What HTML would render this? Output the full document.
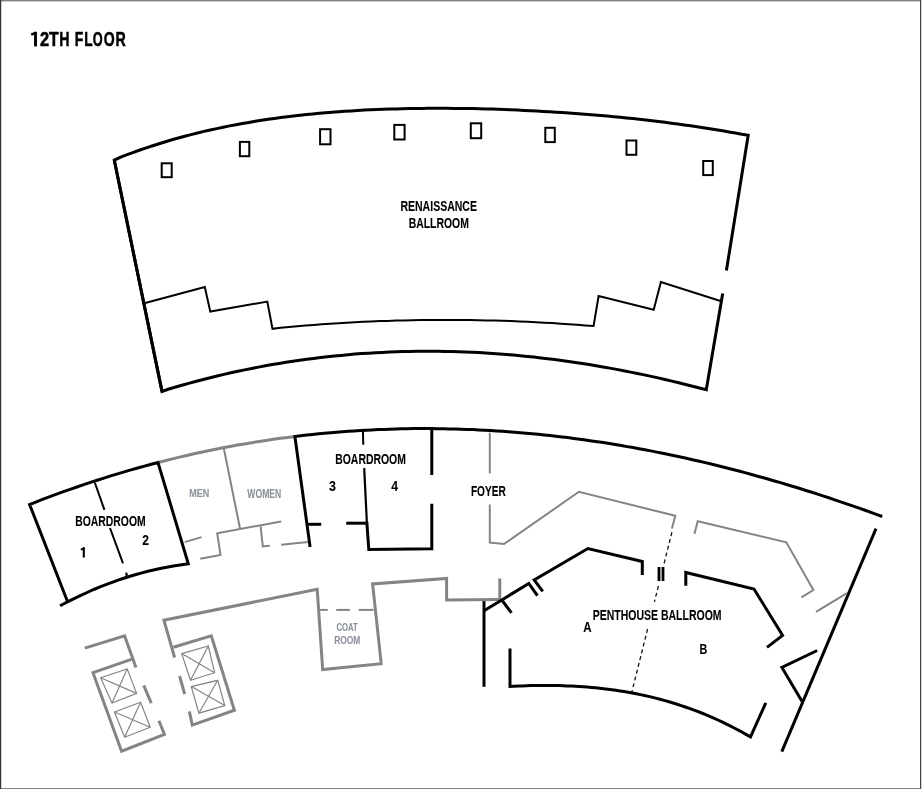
<!DOCTYPE html>
<html><head><meta charset="utf-8"><style>
html,body{margin:0;padding:0;background:#fff;}
body{width:922px;height:789px;overflow:hidden;position:relative;}
svg{position:absolute;left:0;top:0;}
text{font-family:"Liberation Sans",sans-serif;font-weight:bold;} svg{will-change:transform;}
</style></head><body>
<svg width="922" height="789" viewBox="0 0 922 789">
<rect x="0" y="0" width="922" height="789" fill="#fff"/>
<rect x="0" y="0" width="921" height="1.4" fill="#808080"/>
<rect x="0" y="788" width="922" height="1" fill="#808080"/>
<rect x="0" y="0" width="1.2" height="789" fill="#333"/>
<rect x="920" y="0" width="1.1" height="789" fill="#444"/>
<rect x="921" y="0" width="1" height="789" fill="#d0d0d0"/>
<polyline points="162.0,391.4 114.3,160.2 120.7,157.1 127.1,154.7 133.5,152.3 139.9,150.0 146.3,147.8 152.7,145.7 159.1,143.7 165.5,141.7 171.9,139.8 178.3,138.0 184.7,136.3 191.1,134.6 197.5,133.0 203.9,131.4 210.3,130.0 216.7,128.6 223.2,127.2 229.6,125.9 236.0,124.7 242.4,123.5 248.8,122.4 255.2,121.3 261.6,120.3 268.0,119.3 274.4,118.4 280.8,117.6 287.2,116.7 293.6,116.0 300.0,115.2 306.4,114.5 312.8,113.9 319.2,113.3 325.6,112.7 332.0,112.2 338.4,111.7 344.8,111.3 351.2,110.9 357.6,110.5 364.0,110.1 370.4,109.8 376.8,109.5 383.2,109.3 389.6,109.1 396.0,108.9 402.4,108.7 408.8,108.6 415.2,108.5 421.6,108.4 428.0,108.3 434.5,108.3 440.9,108.3 447.3,108.3 453.7,108.4 460.1,108.4 466.5,108.5 472.9,108.6 479.3,108.8 485.7,108.9 492.1,109.1 498.5,109.3 504.9,109.6 511.3,109.8 517.7,110.1 524.1,110.4 530.5,110.7 536.9,111.0 543.3,111.4 549.7,111.8 556.1,112.2 562.5,112.6 568.9,113.0 575.3,113.5 581.7,114.0 588.1,114.5 594.5,115.0 600.9,115.5 607.3,116.1 613.7,116.7 620.1,117.3 626.5,118.0 632.9,118.6 639.3,119.3 645.8,120.0 652.2,120.8 658.6,121.5 665.0,122.3 671.4,123.2 677.8,124.0 684.2,124.9 690.6,125.8 697.0,126.7 703.4,127.7 709.8,128.7 716.2,129.7 722.6,130.8 729.0,131.9 735.4,133.0 741.8,134.2 748.2,135.2 726.4,270.6" fill="none" stroke="#000" stroke-width="3" stroke-linejoin="miter" stroke-linecap="butt" />
<polyline points="722.7,293.4 706.3,389.6 699.4,388.0 692.5,386.2 685.6,384.5 678.7,382.8 671.9,381.1 665.0,379.5 658.1,377.9 651.2,376.4 644.3,374.9 637.4,373.5 630.5,372.1 623.6,370.7 616.7,369.4 609.8,368.1 603.0,366.9 596.1,365.7 589.2,364.6 582.3,363.5 575.4,362.4 568.5,361.4 561.6,360.5 554.7,359.6 547.8,358.7 540.9,357.9 534.1,357.1 527.2,356.4 520.3,355.7 513.4,355.1 506.5,354.5 499.6,353.9 492.7,353.5 485.8,353.0 478.9,352.6 472.0,352.3 465.2,352.0 458.3,351.8 451.4,351.6 444.5,351.4 437.6,351.3 430.7,351.3 423.8,351.3 416.9,351.3 410.0,351.4 403.1,351.6 396.3,351.8 389.4,352.1 382.5,352.4 375.6,352.7 368.7,353.2 361.8,353.6 354.9,354.1 348.0,354.7 341.1,355.4 334.2,356.0 327.4,356.8 320.5,357.6 313.6,358.4 306.7,359.3 299.8,360.3 292.9,361.3 286.0,362.3 279.1,363.4 272.2,364.6 265.3,365.8 258.5,367.1 251.6,368.5 244.7,369.9 237.8,371.3 230.9,372.8 224.0,374.4 217.1,376.0 210.2,377.7 203.3,379.5 196.4,381.3 189.6,383.1 182.7,385.0 175.8,387.0 168.9,389.0 162.0,391.4 114.3,160.2" fill="none" stroke="#000" stroke-width="3" stroke-linejoin="miter" stroke-linecap="butt" />
<polyline points="145.2,303.0 204.8,287.1 210.3,311.6 267.3,301.6 272.5,328.8 280.7,327.7 289.0,326.9 297.2,326.2 305.4,325.5 313.7,324.9 321.9,324.3 330.1,323.7 338.4,323.2 346.6,322.7 354.8,322.3 363.1,321.8 371.3,321.5 379.5,321.1 387.8,320.9 396.0,320.6 404.2,320.4 412.5,320.2 420.7,320.1 428.9,320.0 437.2,319.9 445.4,319.9 453.6,319.9 461.9,320.0 470.1,320.1 478.3,320.2 486.6,320.4 494.8,320.6 503.0,320.8 511.3,321.1 519.5,321.4 527.7,321.8 536.0,322.2 544.2,322.7 552.4,323.1 560.7,323.7 568.9,324.2 577.1,324.8 585.4,325.4 593.6,325.9 598.6,296.0 653.7,309.7 660.9,282.1 720.5,301.0" fill="none" stroke="#000" stroke-width="2" stroke-linejoin="miter" stroke-linecap="butt" />
<rect x="161.7" y="163.3" width="10.0" height="13.9" fill="none" stroke="#000" stroke-width="2"/>
<rect x="239.9" y="141.9" width="9.4" height="14.3" fill="none" stroke="#000" stroke-width="2"/>
<rect x="320.1" y="129.2" width="10.4" height="15.1" fill="none" stroke="#000" stroke-width="2"/>
<rect x="394.3" y="124.9" width="10.3" height="14.6" fill="none" stroke="#000" stroke-width="2"/>
<rect x="470.8" y="123.3" width="10.4" height="14.9" fill="none" stroke="#000" stroke-width="2"/>
<rect x="545.3" y="127.8" width="9.5" height="14.3" fill="none" stroke="#000" stroke-width="2"/>
<rect x="626.5" y="140.5" width="9.8" height="14.3" fill="none" stroke="#000" stroke-width="2"/>
<rect x="703.2" y="161.0" width="9.6" height="14.1" fill="none" stroke="#000" stroke-width="2"/>
<text x="400.40" y="211.30" font-size="15.42" textLength="76.58" lengthAdjust="spacingAndGlyphs" fill="#000" stroke="#000" stroke-width="0.1">RENAISSANCE</text>
<text x="408.67" y="228.10" font-size="15.42" textLength="60.24" lengthAdjust="spacingAndGlyphs" fill="#000" stroke="#000" stroke-width="0.1">BALLROOM</text>
<polyline points="35.5,31.9 35.5,46.4" fill="none" stroke="#000" stroke-width="2.9" stroke-linejoin="miter" stroke-linecap="butt" />
<polyline points="31.2,34.6 36.3,32.6" fill="none" stroke="#000" stroke-width="2.4" stroke-linejoin="miter" stroke-linecap="butt" />
<text x="39.95" y="46.13" font-size="20.97" textLength="9.13" lengthAdjust="spacingAndGlyphs" fill="#000" stroke="#000" stroke-width="0.55">2</text>
<text x="49.12" y="46.13" font-size="20.90" textLength="9.74" lengthAdjust="spacingAndGlyphs" fill="#000" stroke="#000" stroke-width="0.55">T</text>
<text x="59.22" y="46.13" font-size="20.90" textLength="10.25" lengthAdjust="spacingAndGlyphs" fill="#000" stroke="#000" stroke-width="0.55">H</text>
<text x="74.78" y="46.15" font-size="20.92" textLength="8.54" lengthAdjust="spacingAndGlyphs" fill="#000" stroke="#000" stroke-width="0.55">F</text>
<text x="84.23" y="46.13" font-size="20.90" textLength="8.31" lengthAdjust="spacingAndGlyphs" fill="#000" stroke="#000" stroke-width="0.55">L</text>
<text x="92.82" y="46.17" font-size="21.08" textLength="9.90" lengthAdjust="spacingAndGlyphs" fill="#000" stroke="#000" stroke-width="0.55">O</text>
<text x="103.85" y="46.19" font-size="20.73" textLength="10.95" lengthAdjust="spacingAndGlyphs" fill="#000" stroke="#000" stroke-width="0.55">O</text>
<text x="115.41" y="46.13" font-size="20.90" textLength="10.26" lengthAdjust="spacingAndGlyphs" fill="#000" stroke="#000" stroke-width="0.55">R</text>
<polyline points="158.0,462.5 165.2,460.7 172.4,458.9 179.6,457.1 186.8,455.5 194.0,453.8 201.2,452.2 208.4,450.7 215.6,449.3 222.8,447.8 230.1,446.5 237.3,445.1 244.5,443.9 251.7,442.7 258.9,441.5 266.1,440.4 273.3,439.3 280.5,438.3 287.7,437.4 294.9,436.5" fill="none" stroke="#838585" stroke-width="3" stroke-linejoin="miter" stroke-linecap="butt" />
<polyline points="310.1,547.0 294.9,436.5 300.8,435.8 306.8,435.1 312.7,434.4 318.6,433.8 324.6,433.3 330.5,432.7 336.4,432.2 342.4,431.7 348.3,431.3 354.2,430.9 360.2,430.5 366.1,430.2 372.0,429.9 378.0,429.6 383.9,429.4 389.8,429.2 395.7,429.0 401.7,428.8 407.6,428.7 413.5,428.6 419.5,428.6 425.4,428.6 431.3,428.6 437.3,428.7 443.2,428.7 449.1,428.9 455.1,429.0 461.0,429.2 466.9,429.4 472.9,429.6 478.8,429.9 484.7,430.2 490.7,430.5 496.6,430.9 502.5,431.3 508.5,431.7 514.4,432.2 520.3,432.7 526.3,433.2 532.2,433.7 538.1,434.3 544.1,434.9 550.0,435.5 555.9,436.2 561.9,436.9 567.8,437.6 573.7,438.4 579.7,439.2 585.6,440.0 591.5,440.9 597.4,441.7 603.4,442.6 609.3,443.6 615.2,444.5 621.2,445.5 627.1,446.6 633.0,447.6 639.0,448.7 644.9,449.8 650.8,450.9 656.8,452.1 662.7,453.3 668.6,454.5 674.6,455.8 680.5,457.0 686.4,458.3 692.4,459.7 698.3,461.0 704.2,462.4 710.2,463.8 716.1,465.3 722.0,466.8 728.0,468.3 733.9,469.8 739.8,471.3 745.8,472.9 751.7,474.5 757.6,476.2 763.6,477.8 769.5,479.5 775.4,481.2 781.4,482.9 787.3,484.7 793.2,486.5 799.1,488.3 805.1,490.2 811.0,492.0 816.9,493.9 822.9,495.9 828.8,497.8 834.7,499.8 840.7,501.8 846.6,503.8 852.5,505.9 858.5,507.9 864.4,510.0 870.3,512.1 876.3,514.3 882.2,516.5" fill="none" stroke="#000" stroke-width="3" stroke-linejoin="miter" stroke-linecap="butt" />
<polyline points="60.1,605.7 67.6,601.7 29.6,504.5 29.6,504.5 36.4,501.8 43.1,499.2 49.9,496.7 56.6,494.2 63.4,491.7 70.1,489.3 76.9,487.0 83.7,484.7 90.4,482.4 97.2,480.2 103.9,478.1 110.7,475.9 117.5,473.9 124.2,471.9 131.0,469.9 137.7,468.0 144.5,466.1 151.2,464.3 158.0,462.5 188.3,563.8 181.6,564.8 174.8,565.8 168.1,567.0 161.3,568.3 154.6,569.7 147.8,571.3 141.1,573.1 134.3,575.0 127.6,577.0 120.8,579.2 114.1,581.6 107.3,584.1 100.6,586.7 93.8,589.5 87.1,592.5 80.3,595.6 73.6,598.8 66.8,602.2 67.6,601.7" fill="none" stroke="#000" stroke-width="3" stroke-linejoin="miter" stroke-linecap="butt" />
<polyline points="94.8,482.5 104.4,509.8" fill="none" stroke="#000" stroke-width="2" stroke-linejoin="miter" stroke-linecap="butt" />
<polyline points="110.0,528.0 123.0,563.4" fill="none" stroke="#000" stroke-width="2" stroke-linejoin="miter" stroke-linecap="butt" />
<polyline points="126.3,572.6 127.0,578.0" fill="none" stroke="#000" stroke-width="2.2" stroke-linejoin="miter" stroke-linecap="butt" />
<text x="75.24" y="526.25" font-size="15.42" textLength="70.42" lengthAdjust="spacingAndGlyphs" fill="#000" stroke="#000" stroke-width="0.1">BOARDROOM</text>
<polyline points="83.8,547.2 83.8,557.5" fill="none" stroke="#000" stroke-width="2.1" stroke-linejoin="miter" stroke-linecap="butt" />
<polyline points="80.8,549.7 84.4,548.2" fill="none" stroke="#000" stroke-width="1.9" stroke-linejoin="miter" stroke-linecap="butt" />
<text x="142.20" y="544.50" font-size="14.39" textLength="6.70" lengthAdjust="spacingAndGlyphs" fill="#000" stroke="#000" stroke-width="0.1">2</text>
<polyline points="223.8,448.2 240.0,528.5" fill="none" stroke="#838585" stroke-width="2" stroke-linejoin="miter" stroke-linecap="butt" />
<polyline points="184.7,542.1 201.6,537.1" fill="none" stroke="#838585" stroke-width="2" stroke-linejoin="miter" stroke-linecap="butt" />
<polyline points="281.2,521.5 217.2,533.2 220.5,554.9 200.3,558.8" fill="none" stroke="#838585" stroke-width="2" stroke-linejoin="miter" stroke-linecap="butt" />
<polyline points="260.6,526.3 262.8,546.5 269.7,545.8" fill="none" stroke="#838585" stroke-width="2" stroke-linejoin="miter" stroke-linecap="butt" />
<polyline points="281.2,544.7 307.9,541.9" fill="none" stroke="#838585" stroke-width="2" stroke-linejoin="miter" stroke-linecap="butt" />
<text x="189.21" y="497.25" font-size="11.31" textLength="20.04" lengthAdjust="spacingAndGlyphs" fill="#8c919b" stroke="#8c919b" stroke-width="0.1">MEN</text>
<text x="247.35" y="497.50" font-size="12.02" textLength="33.88" lengthAdjust="spacingAndGlyphs" fill="#8c919b" stroke="#8c919b" stroke-width="0.1">WOMEN</text>
<polyline points="308.2,524.3 321.2,524.3" fill="none" stroke="#000" stroke-width="3" stroke-linejoin="miter" stroke-linecap="butt" />
<polyline points="346.2,523.2 366.8,523.2" fill="none" stroke="#000" stroke-width="3" stroke-linejoin="miter" stroke-linecap="butt" />
<polyline points="362.9,430.4 363.3,444.7" fill="none" stroke="#000" stroke-width="2" stroke-linejoin="miter" stroke-linecap="butt" />
<polyline points="364.2,468.1 366.9,523.2" fill="none" stroke="#000" stroke-width="2.2" stroke-linejoin="miter" stroke-linecap="butt" />
<polyline points="366.8,521.7 368.8,549.5 431.8,548.8 431.8,503.7" fill="none" stroke="#000" stroke-width="3" stroke-linejoin="miter" stroke-linecap="butt" />
<polyline points="431.8,428.6 431.8,475.0" fill="none" stroke="#000" stroke-width="3" stroke-linejoin="miter" stroke-linecap="butt" />
<text x="335.24" y="464.25" font-size="14.97" textLength="70.64" lengthAdjust="spacingAndGlyphs" fill="#000" stroke="#000" stroke-width="0.1">BOARDROOM</text>
<text x="329.09" y="490.87" font-size="15.02" textLength="6.97" lengthAdjust="spacingAndGlyphs" fill="#000" stroke="#000" stroke-width="0.1">3</text>
<text x="391.30" y="490.80" font-size="14.53" textLength="6.80" lengthAdjust="spacingAndGlyphs" fill="#000" stroke="#000" stroke-width="0.1">4</text>
<polyline points="489.8,432.6 489.8,473.5" fill="none" stroke="#838585" stroke-width="2" stroke-linejoin="miter" stroke-linecap="butt" />
<polyline points="489.8,504.5 489.8,542.5 504.0,544.0 578.9,491.8 675.3,515.8 671.9,528.4" fill="none" stroke="#838585" stroke-width="2" stroke-linejoin="miter" stroke-linecap="butt" />
<text x="470.90" y="496.20" font-size="14.93" textLength="34.88" lengthAdjust="spacingAndGlyphs" fill="#000" stroke="#000" stroke-width="0.1">FOYER</text>
<polyline points="174.6,657.5 163.9,620.2 317.2,589.3 322.7,669.5 381.2,663.7 372.6,583.9 446.6,578.4 446.6,600.0 499.8,599.5" fill="none" stroke="#838585" stroke-width="3" stroke-linejoin="miter" stroke-linecap="butt" />
<polyline points="499.8,578.5 499.8,599.5" fill="none" stroke="#838585" stroke-width="3" stroke-linejoin="miter" stroke-linecap="butt" />
<polyline points="319.8,609.9 327.7,609.9" fill="none" stroke="#838585" stroke-width="2" stroke-linejoin="miter" stroke-linecap="butt" />
<polyline points="336.2,609.9 349.9,609.9" fill="none" stroke="#838585" stroke-width="2" stroke-linejoin="miter" stroke-linecap="butt" />
<polyline points="358.8,609.9 373.5,609.9" fill="none" stroke="#838585" stroke-width="2" stroke-linejoin="miter" stroke-linecap="butt" />
<text x="336.47" y="631.00" font-size="11.38" textLength="21.38" lengthAdjust="spacingAndGlyphs" fill="#8c919b" stroke="#8c919b" stroke-width="0.1">COAT</text>
<text x="334.24" y="644.01" font-size="11.63" textLength="26.13" lengthAdjust="spacingAndGlyphs" fill="#8c919b" stroke="#8c919b" stroke-width="0.1">ROOM</text>
<polyline points="84.8,648.1 124.6,635.9 136.0,667.6" fill="none" stroke="#838585" stroke-width="3" stroke-linejoin="miter" stroke-linecap="butt" />
<polyline points="133.5,658.7 93.0,672.7 121.6,751.2 164.4,734.3 158.9,720.8" fill="none" stroke="#838585" stroke-width="3" stroke-linejoin="miter" stroke-linecap="butt" />
<polyline points="143.7,685.3 151.3,703.1" fill="none" stroke="#838585" stroke-width="3" stroke-linejoin="miter" stroke-linecap="butt" />
<polyline points="173.3,647.3 211.3,635.9 234.4,710.2 192.3,725.1 189.3,711.4" fill="none" stroke="#838585" stroke-width="3" stroke-linejoin="miter" stroke-linecap="butt" />
<polyline points="179.6,676.0 184.7,694.2" fill="none" stroke="#838585" stroke-width="3" stroke-linejoin="miter" stroke-linecap="butt" />
<polygon points="100.6,677.7 127.2,668.9 136.6,693.4 112.0,703.1" fill="none" stroke="#838585" stroke-width="1.2" stroke-linejoin="miter" />
<polyline points="100.6,677.7 136.6,693.4" fill="none" stroke="#838585" stroke-width="1.2" stroke-linejoin="miter" stroke-linecap="butt" />
<polyline points="127.2,668.9 112.0,703.1" fill="none" stroke="#838585" stroke-width="1.2" stroke-linejoin="miter" stroke-linecap="butt" />
<polygon points="114.5,712.0 140.6,702.3 150.2,727.2 124.6,737.3" fill="none" stroke="#838585" stroke-width="1.2" stroke-linejoin="miter" />
<polyline points="114.5,712.0 150.2,727.2" fill="none" stroke="#838585" stroke-width="1.2" stroke-linejoin="miter" stroke-linecap="butt" />
<polyline points="140.6,702.3 124.6,737.3" fill="none" stroke="#838585" stroke-width="1.2" stroke-linejoin="miter" stroke-linecap="butt" />
<polygon points="181.7,653.6 208.3,646.0 214.6,672.7 190.5,680.3" fill="none" stroke="#838585" stroke-width="1.2" stroke-linejoin="miter" />
<polyline points="181.7,653.6 214.6,672.7" fill="none" stroke="#838585" stroke-width="1.2" stroke-linejoin="miter" stroke-linecap="butt" />
<polyline points="208.3,646.0 190.5,680.3" fill="none" stroke="#838585" stroke-width="1.2" stroke-linejoin="miter" stroke-linecap="butt" />
<polygon points="191.3,686.6 217.7,680.3 224.8,705.6 198.9,713.2" fill="none" stroke="#838585" stroke-width="1.2" stroke-linejoin="miter" />
<polyline points="191.3,686.6 224.8,705.6" fill="none" stroke="#838585" stroke-width="1.2" stroke-linejoin="miter" stroke-linecap="butt" />
<polyline points="217.7,680.3 198.9,713.2" fill="none" stroke="#838585" stroke-width="1.2" stroke-linejoin="miter" stroke-linecap="butt" />
<polyline points="484.0,601.1 484.0,686.8" fill="none" stroke="#000" stroke-width="3" stroke-linejoin="miter" stroke-linecap="butt" />
<polyline points="484.0,610.8 528.8,583.4 537.4,595.7" fill="none" stroke="#000" stroke-width="3" stroke-linejoin="miter" stroke-linecap="butt" />
<polyline points="542.8,591.4 534.2,580.0 587.9,548.5 642.3,561.5 642.3,575.0" fill="none" stroke="#000" stroke-width="3" stroke-linejoin="miter" stroke-linecap="butt" />
<polyline points="501.8,600.0 511.5,612.9" fill="none" stroke="#000" stroke-width="3" stroke-linejoin="miter" stroke-linecap="butt" />
<polyline points="659.0,567.0 659.0,581.0" fill="none" stroke="#000" stroke-width="2.8" stroke-linejoin="miter" stroke-linecap="butt" />
<polyline points="663.0,567.0 663.0,581.0" fill="none" stroke="#000" stroke-width="2.8" stroke-linejoin="miter" stroke-linecap="butt" />
<polyline points="685.8,585.7 685.8,572.5 754.0,589.0 782.6,635.5 767.0,647.4" fill="none" stroke="#000" stroke-width="3" stroke-linejoin="miter" stroke-linecap="butt" />
<polyline points="510.0,648.4 510.0,686.4 514.1,686.2 518.2,686.0 522.2,685.9 526.3,685.7 530.4,685.6 534.5,685.5 538.5,685.5 542.6,685.5 546.7,685.5 550.8,685.5 554.8,685.5 558.9,685.6 563.0,685.7 567.1,685.9 571.1,686.1 575.2,686.3 579.3,686.5 583.4,686.8 587.4,687.1 591.5,687.4 595.6,687.8 599.7,688.2 603.8,688.7 607.8,689.2 611.9,689.7 616.0,690.3 620.1,690.9 624.1,691.6 628.2,692.3 632.3,693.0 636.4,693.8 640.4,694.6 644.5,695.5 648.6,696.4 652.7,697.4 656.7,698.4 660.8,699.5 664.9,700.6 669.0,701.8 673.1,703.0 677.1,704.3 681.2,705.6 685.3,707.0 689.4,708.4 693.4,709.9 697.5,711.4 701.6,713.0 705.7,714.7 709.7,716.4 713.8,718.2 717.9,720.0 722.0,721.9 726.0,723.9 730.1,725.9 734.2,728.0 738.3,730.1 742.3,732.3 746.4,734.6 750.5,736.9 765.8,702.8" fill="none" stroke="#000" stroke-width="3" stroke-linejoin="miter" stroke-linecap="butt" />
<polyline points="817.2,650.5 781.9,667.4 802.1,701.5" fill="none" stroke="#000" stroke-width="3" stroke-linejoin="miter" stroke-linecap="butt" />
<polyline points="876.0,528.6 781.8,751.7" fill="none" stroke="#000" stroke-width="3" stroke-linejoin="miter" stroke-linecap="butt" />
<polyline points="671.9,532.2 663.8,564.6" fill="none" stroke="#111" stroke-width="1.3" stroke-linejoin="miter" stroke-linecap="butt" stroke-dasharray="4,3"/>
<polyline points="658.4,586.0 654.4,601.9" fill="none" stroke="#111" stroke-width="1.3" stroke-linejoin="miter" stroke-linecap="butt" stroke-dasharray="4,3"/>
<polyline points="647.6,629.0 631.9,691.8" fill="none" stroke="#111" stroke-width="1.3" stroke-linejoin="miter" stroke-linecap="butt" stroke-dasharray="4,3"/>
<text x="592.69" y="619.55" font-size="14.53" textLength="128.89" lengthAdjust="spacingAndGlyphs" fill="#000" stroke="#000" stroke-width="0.1">PENTHOUSE BALLROOM</text>
<text x="583.33" y="632.29" font-size="15.05" textLength="8.33" lengthAdjust="spacingAndGlyphs" fill="#000" stroke="#000" stroke-width="0.1">A</text>
<text x="699.59" y="654.30" font-size="15.42" textLength="7.78" lengthAdjust="spacingAndGlyphs" fill="#000" stroke="#000" stroke-width="0.1">B</text>
<polyline points="694.5,533.7 697.7,521.2 786.3,542.3 813.4,590.0 801.4,597.3" fill="none" stroke="#838585" stroke-width="2" stroke-linejoin="miter" stroke-linecap="butt" />
<polyline points="816.0,611.9 847.0,593.2" fill="none" stroke="#838585" stroke-width="2" stroke-linejoin="miter" stroke-linecap="butt" />
</svg>
</body></html>
